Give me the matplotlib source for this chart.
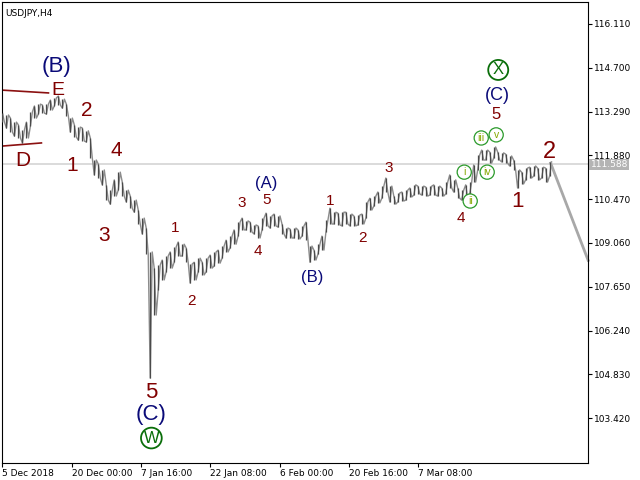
import matplotlib
matplotlib.use('Agg')
import matplotlib.pyplot as plt
import numpy as np

plt.rcParams['font.family'] = ['Liberation Sans', 'DejaVu Sans']

# USDJPY H4, sampled bars (high / low)
high = [113.24, 113.18, 113.08, 112.95, 112.86, 112.70, 112.95, 113.28, 113.47, 113.53,
        113.50, 113.53, 113.66, 113.73, 113.79, 113.69, 113.53, 113.08, 112.86, 112.79,
        112.76, 112.67, 112.44, 111.73, 111.60, 111.41, 110.93, 110.76, 111.09, 111.34,
        111.02, 110.76, 110.57, 110.44, 110.12, 109.86, 109.54, 108.77, 108.25, 108.35,
        108.51, 108.64, 108.77, 108.93, 109.09, 109.02, 108.90, 108.38, 108.44, 108.57,
        108.44, 108.57, 108.67, 108.77, 108.83, 108.96, 109.15, 109.28, 109.48, 109.73,
        109.86, 109.77, 109.73, 109.64, 109.61, 109.86, 110.02, 109.93, 109.99, 109.93,
        109.67, 109.54, 109.51, 109.54, 109.48, 109.61, 109.73, 108.96, 108.83, 109.02,
        109.28, 109.80, 110.18, 110.05, 110.02, 110.05, 110.05, 109.99, 109.93, 109.96,
        109.99, 110.38, 110.50, 110.57, 110.70, 110.89, 111.15, 110.89, 110.57, 110.67,
        110.70, 110.76, 110.83, 110.93, 110.89, 110.89, 110.86, 110.89, 110.93, 110.89,
        110.83, 111.02, 111.25, 111.09, 110.83, 110.76, 110.93, 111.02, 111.57, 111.89,
        112.05, 112.05, 111.99, 112.15, 111.99, 111.96, 111.92, 111.86, 111.73, 111.41,
        111.34, 111.47, 111.50, 111.54, 111.47, 111.50, 111.47, 111.67]
low = [112.95, 112.76, 112.63, 112.50, 112.44, 112.28, 112.44, 112.82, 113.08, 113.21,
       113.24, 113.21, 113.34, 113.47, 113.50, 113.40, 113.15, 112.63, 112.47, 112.37,
       112.34, 112.31, 111.79, 111.25, 111.15, 110.93, 110.44, 110.31, 110.57, 110.76,
       110.57, 110.38, 110.18, 110.05, 109.67, 109.35, 108.70, 104.71, 106.74, 107.54,
       107.87, 108.13, 108.25, 108.44, 108.64, 108.64, 108.44, 107.77, 107.87, 108.13,
       108.03, 108.13, 108.25, 108.32, 108.41, 108.57, 108.77, 108.90, 109.02, 109.28,
       109.48, 109.48, 109.41, 109.35, 109.22, 109.48, 109.61, 109.54, 109.61, 109.57,
       109.35, 109.22, 109.22, 109.22, 109.19, 109.28, 109.15, 108.44, 108.51, 108.70,
       108.83, 109.41, 109.67, 109.67, 109.64, 109.61, 109.67, 109.61, 109.61, 109.64,
       109.67, 109.86, 110.12, 110.25, 110.35, 110.50, 110.70, 110.38, 110.31, 110.38,
       110.41, 110.44, 110.54, 110.60, 110.64, 110.60, 110.57, 110.60, 110.60, 110.57,
       110.57, 110.64, 110.83, 110.70, 110.50, 110.44, 110.50, 110.64, 111.02, 111.41,
       111.73, 111.73, 111.63, 111.79, 111.73, 111.67, 111.63, 111.54, 111.41, 110.83,
       110.96, 111.09, 111.15, 111.21, 111.09, 111.15, 111.02, 111.21]
bars_per_sample = 3.69
projection = [111.63, 108.50]
current_price = 111.588

xtick_labels = ['5 Dec 2018', '20 Dec 00:00', '7 Jan 16:00', '22 Jan 08:00',
                '6 Feb 00:00', '20 Feb 16:00', '7 Mar 08:00']
yticks = [103.42, 104.83, 106.24, 107.65, 109.06, 110.47, 111.88, 113.29, 114.70, 116.11]

# wave labels: (text, bar, price, size, color)
dred = '#800000'
navy = '#0a0a78'
waves = [
    ('(B)', 49.9, 114.73, 16, navy), ('E', 50.8, 113.98, 14, dred), ('D', 18.5, 111.73, 15, dred),
    ('2', 77.6, 113.31, 15, dred), ('1', 64.6, 111.54, 15, dred), ('4', 105.3, 112.05, 15, dred),
    ('3', 94.2, 109.31, 15, dred), ('5', 137.6, 104.23, 16, dred), ('(C)', 137.6, 103.55, 16, navy),
    ('1', 159.8, 109.54, 11, dred), ('2', 174.5, 107.19, 11, dred), ('3', 220.7, 110.35, 11, dred),
    ('5', 243.8, 110.44, 11, dred), ('4', 236.4, 108.80, 11, dred), ('(A)', 243.8, 110.99, 12, navy),
    ('(B)', 286.3, 107.96, 12, navy), ('1', 302.9, 110.41, 11, dred), ('2', 332.5, 109.22, 11, dred),
    ('3', 356.5, 111.47, 11, dred), ('4', 423.9, 109.86, 11, dred), ('5', 456.2, 113.18, 12, dred),
    ('(C)', 457.1, 113.82, 13, navy), ('1', 475.6, 110.41, 16, dred), ('2', 505.2, 111.99, 17, dred),
]
circled_big = [('W', 137.6, 102.78), ('X', 458.1, 114.63)]
circled_small = [('i', 426.7, 111.34), ('ii', 432.2, 110.41), ('iii', 442.4, 112.44),
                 ('iv', 447.9, 111.34), ('v', 456.2, 112.54)]
trend_upper = [(0, 113.98), (42.5, 113.89)]
trend_lower = [(0, 112.18), (36, 112.28)]

fig = plt.figure(figsize=(6.4, 4.8), dpi=100)
ax = fig.add_axes([0.003, 0.035, 0.916, 0.961])

x = np.arange(len(high)) * bars_per_sample
ax.axhline(current_price, color='#d4d4d4', lw=1.2, zorder=1)
ax.vlines(x, low, high, color='#4a4a4a', lw=0.9, zorder=3)
# hatch-like zigzag between bar ends, like densely packed H4 bars
zx, zy = [], []
half = bars_per_sample / 2
for i in range(len(x)):
    zx += [x[i], x[i] + half]
    zy += [high[i], low[i]] if i % 2 == 0 else [low[i], high[i]]
ax.plot(zx, zy, color='#8c8c8c', lw=1.0, zorder=2)

x_end = 541.2
ax.plot([x[-1] + 1, x_end], projection, color='#a8a8a8', lw=2, zorder=2, clip_on=False)

for (a, b) in [trend_upper, trend_lower]:
    ax.plot([a[0], b[0]], [a[1], b[1]], color='#8b1010', lw=1.2)

for t, bx, p, s, c in waves:
    ax.text(bx, p, t, fontsize=s, color=c, ha='center', va='center')
for t, bx, p in circled_big:
    ax.text(bx, p, t, fontsize=12, color='#0a6e0a', ha='center', va='center',
            bbox=dict(boxstyle='circle,pad=0.15', fc='white', ec='#0a6e0a', lw=1.3))
for t, bx, p in circled_small:
    ax.text(bx, p, t, fontsize=7.5, color='#86a800', ha='center', va='center',
            bbox=dict(boxstyle='circle,pad=0.2', fc='white', ec='#2a9a2a', lw=0.9))

ax.set_xlim(-0.5, x_end)
ax.set_ylim(101.97, 116.82)
ax.yaxis.tick_right()
ax.set_yticks(yticks)
ax.set_yticklabels(['%.3f' % v for v in yticks], fontsize=6.5, family='DejaVu Sans')
ax.set_xticks(np.arange(len(xtick_labels)) * 64)
ax.set_xticklabels(xtick_labels, fontsize=6.5, family='DejaVu Sans', ha='left')
ax.tick_params(axis='both', length=3, width=0.8, pad=1, direction='out')
for sp in ax.spines.values():
    sp.set_linewidth(0.8)

ax.text(0.006, 0.985, 'USDJPY,H4', transform=ax.transAxes, fontsize=6.5,
        family='DejaVu Sans', va='top', ha='left')
ax.text(1.004, current_price, '111.588', transform=ax.get_yaxis_transform(), fontsize=6.5,
        family='DejaVu Sans', color='white', va='center', ha='left',
        bbox=dict(boxstyle='square,pad=0.15', fc='#b4b4b4', ec='none'))

plt.savefig('out.png', dpi=100)
